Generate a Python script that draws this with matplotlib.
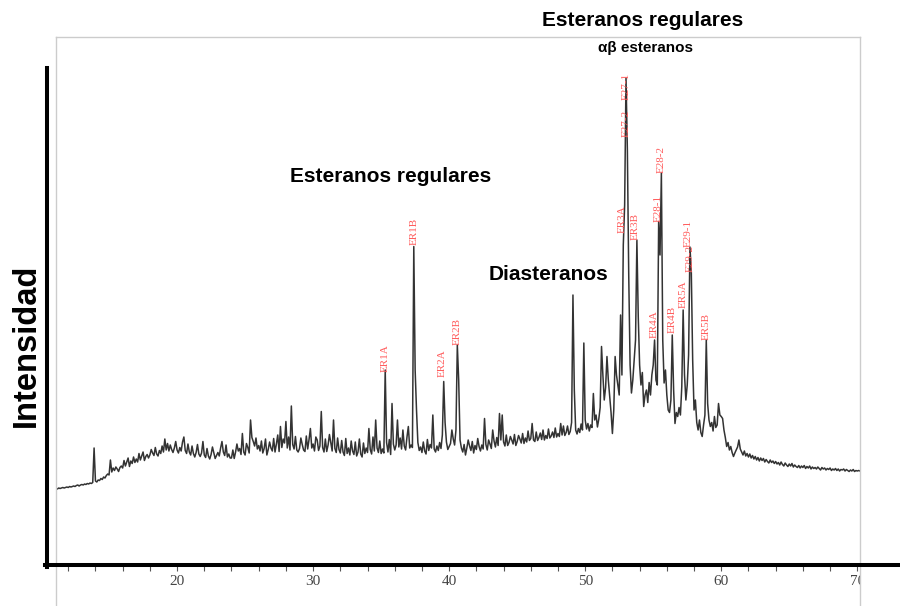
import numpy as np
import matplotlib
matplotlib.use('Agg')
import matplotlib.pyplot as plt
from matplotlib.lines import Line2D
from matplotlib.patches import Rectangle

# chromatogram, one reading every 0.1 min starting at 11.0 min
t_start = 11.0
t_step = 0.1

sig_10s = [15.2, 15.3, 15.2, 15.4, 15.3, 15.4, 15.5, 15.4, 15.5, 15.6,
           15.5, 15.7, 15.6, 15.7, 15.8, 15.7, 15.9, 16.0, 15.8, 16.0,
           16.1, 16.0, 16.2, 16.1, 16.3, 16.2, 16.4, 16.3, 16.5, 23.4,
           16.8, 16.6, 17.0, 16.9, 17.3, 17.1, 17.6, 17.4, 17.9, 18.2,
           18.0, 21.0, 18.6, 19.4, 18.9, 19.6, 19.2, 18.7, 19.5, 19.8,
           19.4, 20.9, 19.8, 20.6, 21.4, 19.7, 20.8, 20.3, 21.6, 20.5,
           21.2, 20.6, 22.3, 21.0, 21.8, 22.6, 20.9, 21.7, 22.1, 21.4,
           22.0, 23.1, 22.4, 21.9, 23.5, 22.2, 21.8, 22.9, 22.3, 23.8,
           22.6, 25.2, 23.0, 24.3, 22.8, 24.0, 23.1, 22.5, 23.4, 24.7]
sig_20s = [23.0, 22.4, 23.5, 22.8, 24.6, 25.6, 22.9, 22.3, 24.2, 22.6,
           22.0, 23.8, 22.3, 21.6, 22.5, 24.1, 22.2, 21.7, 22.4, 24.7,
           22.0, 21.5, 23.3, 21.8, 21.2, 22.1, 23.6, 22.4, 21.3, 21.9,
           22.5, 21.8, 23.4, 24.7, 22.6, 21.9, 24.0, 21.6, 22.2, 21.4,
           21.4, 23.0, 21.3, 22.6, 24.2, 22.8, 23.3, 22.1, 26.3, 22.6,
           22.0, 24.3, 23.5, 22.4, 29.0, 25.5, 24.7, 23.8, 25.4, 23.2,
           23.9, 22.8, 24.8, 22.4, 23.3, 25.2, 22.0, 23.1, 24.6, 23.4,
           22.8, 25.3, 22.6, 24.2, 26.0, 22.7, 27.7, 23.5, 25.2, 24.4,
           28.7, 23.4, 25.6, 23.0, 31.8, 24.1, 23.2, 25.7, 23.0, 22.6,
           23.3, 25.4, 24.1, 23.0, 22.7, 25.8, 23.2, 25.1, 27.3, 23.4]
sig_30s = [24.2, 22.8, 25.6, 25.0, 22.9, 23.8, 30.7, 23.5, 22.6, 25.2,
           22.7, 24.0, 26.1, 24.4, 22.8, 29.0, 23.3, 22.5, 25.4, 23.1,
           22.4, 24.9, 22.6, 21.9, 25.3, 22.3, 23.4, 22.0, 24.8, 22.8,
           22.1, 24.6, 21.8, 22.6, 25.2, 22.2, 21.6, 24.4, 22.3, 23.4,
           22.5, 27.3, 23.1, 22.2, 25.6, 22.8, 29.0, 23.4, 22.5, 24.8,
           22.3, 23.2, 22.4, 39.0, 24.5, 22.6, 25.1, 22.1, 32.3, 24.2,
           23.0, 24.0, 29.0, 23.6, 25.4, 23.2, 27.0, 23.8, 23.0, 25.6,
           27.7, 23.4, 24.0, 23.5, 63.7, 39.0, 31.0, 24.5, 22.9, 23.6,
           22.5, 24.6, 22.8, 22.2, 25.1, 22.9, 24.1, 23.4, 30.0, 23.2,
           22.6, 23.8, 22.9, 24.5, 23.3, 26.0, 36.7, 28.5, 24.6, 23.1]
sig_40s = [23.7, 24.3, 27.0, 25.2, 24.0, 27.0, 44.0, 37.0, 25.0, 23.4,
           22.6, 24.1, 22.0, 23.4, 25.0, 23.8, 22.9, 24.7, 22.4, 23.9,
           23.1, 25.3, 23.7, 22.8, 24.0, 23.2, 29.3, 24.1, 23.0, 25.0,
           24.2, 23.3, 27.0, 24.8, 23.6, 25.5, 23.9, 30.3, 25.0, 30.0,
           24.6, 23.8, 26.0, 23.9, 24.5, 25.7, 25.0, 24.2, 26.1, 23.9,
           24.7, 25.9, 25.2, 24.4, 26.3, 24.3, 25.4, 24.6, 26.8, 24.9,
           25.3, 28.3, 25.0, 24.7, 26.6, 24.9, 25.5, 26.4, 25.1, 27.0,
           25.0, 25.9, 25.3, 27.2, 25.4, 25.8, 26.6, 25.5, 27.4, 25.6,
           26.3, 25.7, 28.3, 26.0, 27.8, 25.9, 26.5, 27.8, 26.1, 26.7,
           28.5, 54.0, 35.0, 27.0, 26.2, 27.3, 26.5, 28.2, 27.0, 44.4]
sig_50s = [29.0, 27.2, 28.3, 26.8, 28.0, 27.5, 34.3, 29.0, 30.0, 27.6,
           29.2, 31.5, 43.7, 38.0, 33.0, 35.5, 41.7, 37.0, 33.7, 30.5,
           26.3, 31.0, 41.7, 38.0, 36.0, 34.0, 50.0, 38.0, 64.0, 72.0,
           97.4, 83.0, 58.0, 40.0, 34.4, 37.0, 41.0, 45.0, 65.0, 49.7,
           40.0, 36.0, 38.5, 31.7, 34.0, 35.0, 32.5, 36.5, 34.0, 38.0,
           40.0, 45.0, 37.0, 36.0, 68.7, 62.0, 78.4, 45.0, 36.4, 39.0,
           34.0, 31.0, 30.5, 33.0, 46.0, 35.0, 28.3, 30.5, 29.7, 31.5,
           30.0, 35.7, 51.0, 38.0, 33.0, 36.0, 42.0, 63.6, 58.6, 41.0,
           31.0, 33.0, 28.5, 27.0, 29.0, 26.5, 25.7, 28.0, 30.0, 45.0,
           32.3, 29.0, 27.7, 28.5, 26.8, 29.7, 27.5, 28.0, 32.3, 30.0]
sig_60s = [29.7, 29.3, 27.0, 25.5, 23.7, 24.5, 23.0, 23.7, 22.5, 21.7,
           22.4, 23.0, 23.6, 25.0, 23.2, 22.6, 22.0, 22.8, 21.8, 22.3,
           21.6, 22.2, 21.4, 21.9, 21.2, 21.7, 21.0, 21.5, 20.8, 21.4,
           20.9, 21.3, 20.6, 21.1, 20.7, 20.4, 21.0, 20.5, 20.8, 20.3,
           20.7, 20.2, 20.5, 20.0, 20.6, 20.1, 19.8, 20.4, 20.0, 19.7,
           20.2, 19.8, 20.3, 19.6, 20.0, 19.7, 19.5, 19.9, 19.4, 19.8,
           19.5, 19.9, 19.3, 19.7, 19.4, 19.8, 19.2, 19.6, 19.3, 19.5,
           19.2, 19.6, 19.3, 19.0, 19.5, 19.2, 19.4, 19.0, 19.3, 19.1,
           19.4, 18.9, 19.2, 19.0, 19.3, 18.9, 19.2, 18.8, 19.1, 19.0,
           19.2, 18.8, 19.1, 18.9, 18.7, 19.0, 18.8, 19.1, 18.7, 18.9]
sig_70s = [18.8, 18.9, 18.8]

# peak labels (name, retention time, intensity where the label starts)
peak_names = ['ER1A', 'ER1B', 'ER2A', 'ER2B', 'ER3A', 'E27-2', 'E27-1', 'ER3B',
              'E28-1', 'E28-2', 'ER4A', 'ER4B', 'ER5A', 'E29-1', 'E29-2', 'ER5B']
peak_rt = [35.29, 37.43, 39.49, 40.59, 52.72, 53.01, 53.01, 53.68,
           55.35, 55.55, 55.10, 56.37, 57.23, 57.55, 57.72, 58.90]
peak_lab_y = [38.6, 64.0, 37.6, 44.0, 66.4, 85.6, 93.0, 65.0,
              68.6, 78.4, 45.4, 46.4, 51.4, 63.6, 58.6, 45.0]

signal = np.array(sig_10s + sig_20s + sig_30s + sig_40s + sig_50s + sig_60s + sig_70s)
rt = t_start + t_step*np.arange(len(signal))

W, H = 900, 606
def fx(x):
    return x/W
def fy(y):
    return 1 - y/H

fig = plt.figure(figsize=(9, 6.06), dpi=100)
ax = fig.add_axes([fx(56), fy(565), fx(860) - fx(56), fy(37) - fy(565)])

ax.plot(rt, signal, color='#333333', lw=1.1)

for name, t, y in zip(peak_names, peak_rt, peak_lab_y):
    ax.text(t, y, name, rotation=90, ha='center', va='bottom', fontsize=8,
            family='Liberation Serif', color='#ff5c5c')

ax.set_xlim(11.1, 70.2)
ax.set_ylim(0, 105.6)
ax.set_yticks([])
ax.set_xticks(np.arange(20, 71, 10))
ax.set_xticks(np.arange(12, 71, 2), minor=True)
ax.tick_params(axis='x', which='both', direction='out', length=4, width=0.8,
               color='#555555', pad=3, labelsize=11, labelcolor='#444444')
for lab in ax.get_xticklabels():
    lab.set_family('Liberation Serif')
for side in ['left', 'right', 'top']:
    ax.spines[side].set_color('#cccccc')
    ax.spines[side].set_linewidth(1.0)
ax.spines['bottom'].set_visible(False)

# white box hiding the part of the "70" label beyond the frame
fig.add_artist(Rectangle((fx(861), 0), fx(900) - fx(861), fy(568), transform=fig.transFigure,
                         facecolor='white', edgecolor='none', zorder=5))
# frame continues below the axis line
for x in (56, 860):
    fig.add_artist(Line2D([fx(x), fx(x)], [0, fy(565)], transform=fig.transFigure,
                          color='#cccccc', lw=1.0, zorder=6))
# thick black axes
fig.add_artist(Line2D([fx(47), fx(47)], [fy(68), fy(567)], transform=fig.transFigure,
                      color='black', lw=2.9, zorder=7))
fig.add_artist(Line2D([fx(45), fx(900)], [fy(565), fy(565)], transform=fig.transFigure,
                      color='black', lw=2.9, zorder=7))

bold = dict(family='Liberation Sans', fontweight='bold', color='black', ha='center', va='center')
fig.text(fx(643), fy(21), 'Esteranos regulares', fontsize=15, **bold)
fig.text(fx(645), fy(48), 'αβ esteranos', fontsize=11, **bold)
fig.text(fx(391), fy(177), 'Esteranos regulares', fontsize=15, **bold)
fig.text(fx(549), fy(275), 'Diasteranos', fontsize=15, **bold)
fig.text(fx(26), fy(345), 'Intensidad', fontsize=23.5, rotation=90, **bold)

fig.savefig('out.png', dpi=100)
